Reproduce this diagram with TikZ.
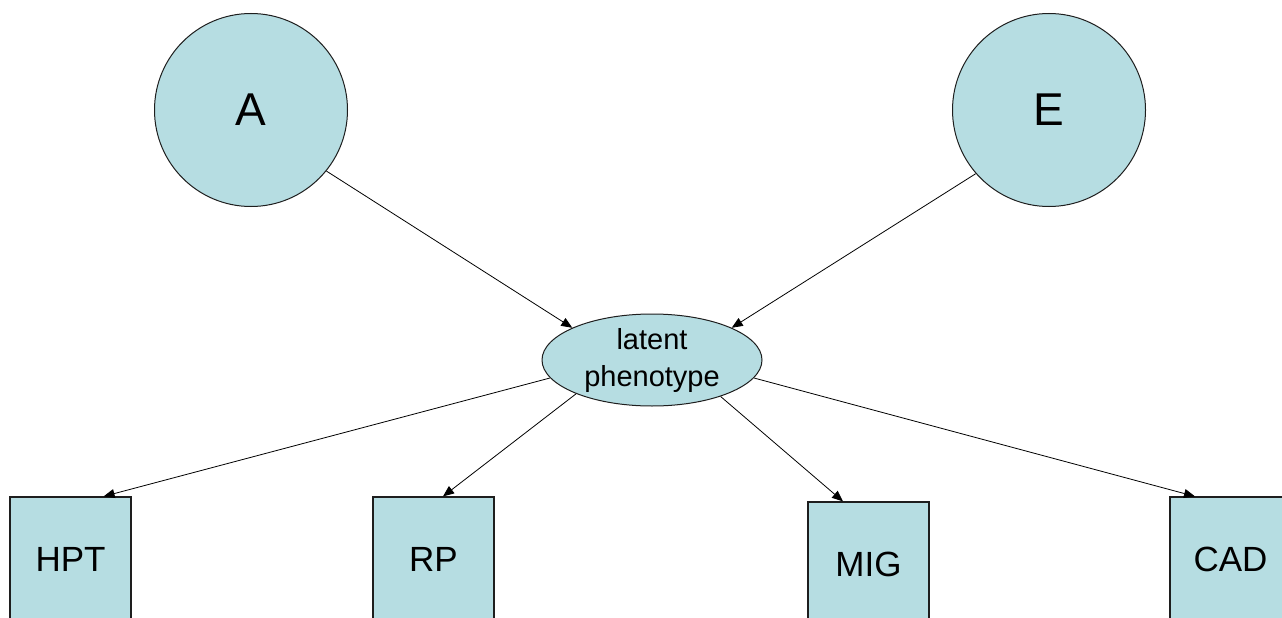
\documentclass[tikz,border=0pt]{standalone}
\usepackage{fontspec}
\setmainfont{Liberation Sans}
\usetikzlibrary{shapes.geometric,arrows.meta}
\definecolor{nodefill}{HTML}{B6DDE2}
\definecolor{edgeline}{HTML}{1E1E1E}
\tikzset{
  factor/.style={circle, draw=edgeline, fill=nodefill, line width=1pt,
    minimum size=193pt, inner sep=0pt, font=\fontsize{46}{50}\selectfont},
  latentnode/.style={ellipse, draw=edgeline, fill=nodefill, line width=1pt,
    minimum width=220pt, minimum height=92pt, inner sep=0pt, align=center,
    font=\fontsize{29}{37}\selectfont},
  measure/.style={rectangle, draw=edgeline, fill=nodefill, line width=1.2pt,
    minimum width=121pt, minimum height=127pt, inner sep=0pt,
    font=\fontsize{35}{38}\selectfont},
  link/.style={draw=black, line width=0.8pt, -{Triangle[length=11pt,width=9pt]}}
}
\begin{document}
\begin{tikzpicture}[x=1pt,y=-1pt]
\useasboundingbox (0,0) rectangle (1282,618);
\fill[white] (0,0) rectangle (1282,618);
\clip (0,0) rectangle (1282,618);

% genetic and environmental factors
\node[factor] (A) at (251,110) {A};
\node[factor] (E) at (1049,110) {E};

% latent phenotype
\node[latentnode] (lat) at (652,360) {latent\\phenotype};

% observed measures (they run past the lower edge)
\node[measure] (hpt) at (70.5,560.5) {\raisebox{3pt}{HPT}};
\node[measure] (rp)  at (433.5,560.5) {\raisebox{3pt}{RP}};
\node[measure] (mig) at (868.5,565.5) {\raisebox{3pt}{MIG}};
\node[measure] (cad) at (1230.5,560.5) {\raisebox{3pt}{CAD}};

% paths
\draw[link] (A.321) -- (lat.158);
\draw[link] (E.221) -- (lat.22);
\draw[link] (lat.190) -- ([xshift=-28pt]hpt.north east);
\draw[link] (lat.204) -- ([xshift=9.5pt]rp.north);
\draw[link] (lat.332) -- ([xshift=-25.5pt]mig.north);
\draw[link] (lat.350) -- ([xshift=-35.5pt]cad.north);
\end{tikzpicture}
\end{document}
